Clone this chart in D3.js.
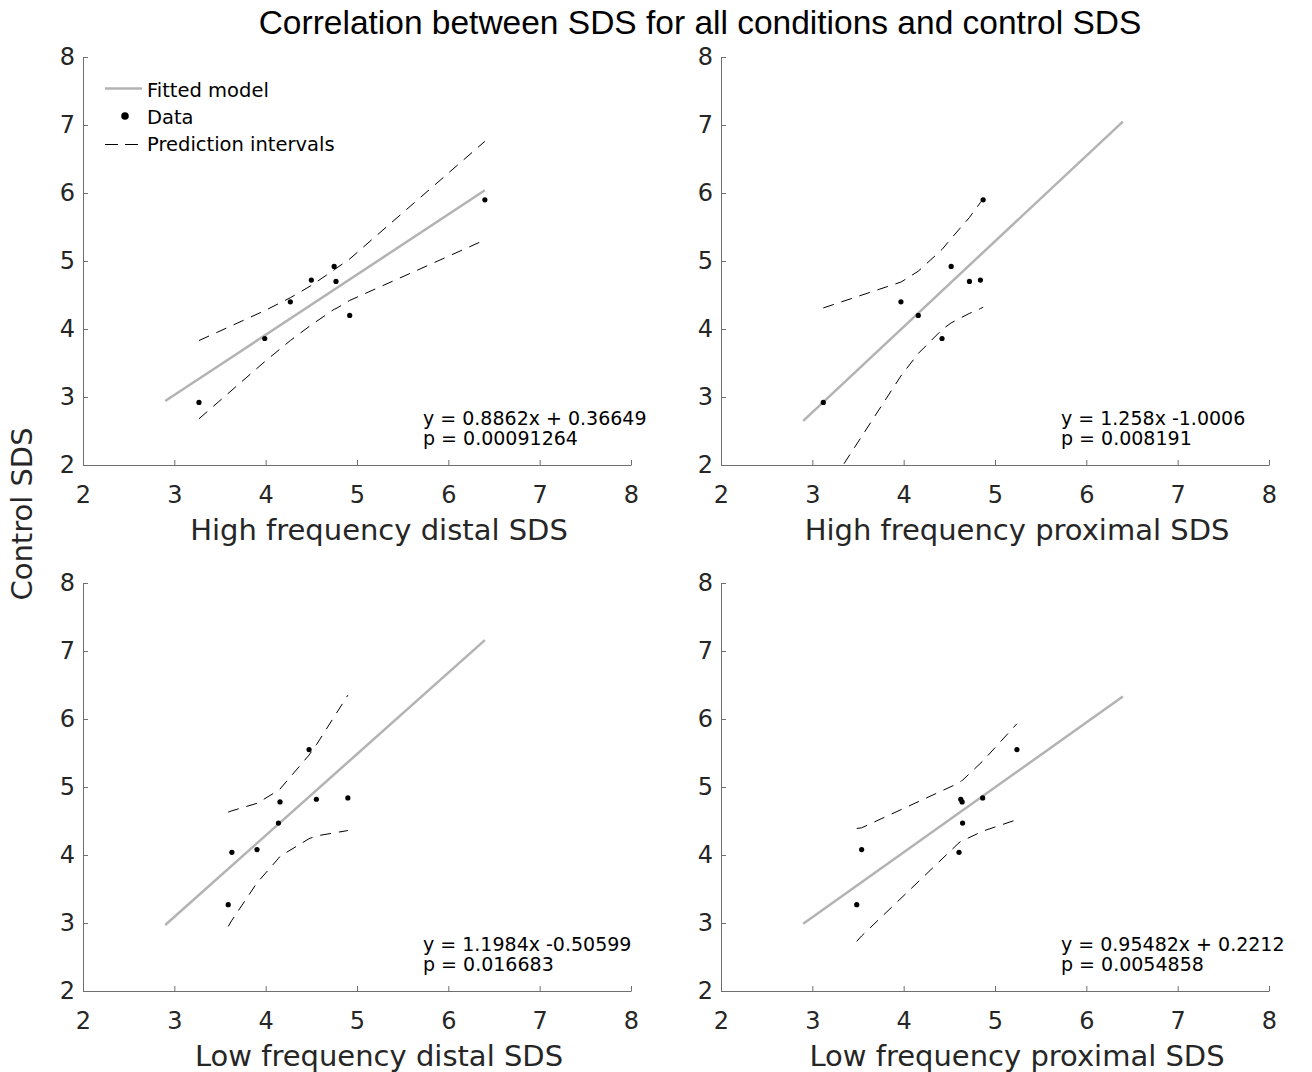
<!DOCTYPE html>
<html>
<head>
<meta charset="utf-8">
<script src="https://cdn.jsdelivr.net/npm/d3@7"></script>
<style>
body { margin: 0; background: #fff; }
text { font-family: "DejaVu Sans", Verdana, sans-serif; }
</style>
</head>
<body>
<div id="chart"></div>
<script>
// control SDS (y) for the top row and the bottom row
var controlTop = [2.92, 3.86, 4.40, 4.72, 4.92, 4.70, 4.20, 5.90];
var controlBottom = [3.27, 4.04, 4.08, 4.47, 4.78, 5.55, 4.82, 4.84];

// condition SDS (x)
var hfDistal = [3.27, 3.99, 4.27, 4.50, 4.75, 4.77, 4.92, 6.40];
var hfProximal = [3.12, 4.42, 3.97, 4.84, 4.52, 4.72, 4.16, 4.87];
var lfDistal = [3.59, 3.63, 3.905, 4.14, 4.157, 4.475, 4.555, 4.90];
var lfProximal = [3.486, 4.606, 3.54, 4.645, 4.64, 5.24, 4.625, 4.865];

// fitted model, drawn between x = 2.9 and 6.4
var fitX = [2.9, 6.4];
var fitHfDistal = [2.94, 6.04];
var fitHfProximal = [2.65, 7.05];
var fitLfDistal = [2.97, 7.16];
var fitLfProximal = [2.99, 6.33];

// prediction interval bounds, read at the sorted data x
var piXHfDistal = [3.27, 3.99, 4.27, 4.50, 4.75, 4.77, 4.92, 6.40];
var piUpHfDistal = [3.83, 4.27, 4.46, 4.64, 4.87, 4.89, 5.03, 6.76];
var piLoHfDistal = [2.68, 3.52, 3.83, 4.06, 4.29, 4.30, 4.42, 5.31];

var piXHfProximal = [3.12, 3.97, 4.16, 4.42, 4.52, 4.72, 4.84, 4.87];
var piUpHfProximal = [4.31, 4.69, 4.85, 5.17, 5.33, 5.64, 5.86, 5.91];
var piLoHfProximal = [1.55, 3.31, 3.64, 3.99, 4.09, 4.23, 4.30, 4.32];

var piXLfDistal = [3.59, 3.63, 3.905, 4.14, 4.157, 4.475, 4.555, 4.90];
var piUpLfDistal = [4.63, 4.65, 4.76, 4.95, 4.97, 5.47, 5.62, 6.35];
var piLoLfDistal = [2.95, 3.04, 3.59, 3.95, 3.98, 4.24, 4.28, 4.36];

var piXLfProximal = [3.486, 3.54, 4.606, 4.625, 4.64, 4.645, 4.865, 5.24];
var piUpLfProximal = [4.39, 4.40, 5.06, 5.08, 5.10, 5.10, 5.38, 5.93];
var piLoLfProximal = [2.73, 2.81, 4.18, 4.20, 4.21, 4.21, 4.35, 4.52];

var xLabels = ["High frequency distal SDS", "High frequency proximal SDS",
               "Low frequency distal SDS", "Low frequency proximal SDS"];
var eqTexts = ["y = 0.8862x + 0.36649", "y = 1.258x -1.0006",
               "y = 1.1984x -0.50599", "y = 0.95482x + 0.2212"];
var pTexts = ["p = 0.00091264", "p = 0.008191", "p = 0.016683", "p = 0.0054858"];
var tickValues = [2, 3, 4, 5, 6, 7, 8];
var legendItems = ["Fitted model", "Data", "Prediction intervals"];

var width = 1312, height = 1072;
var pw = 548, ph = 408;
var origins = [[83, 57], [721, 57], [83, 583], [721, 583]];

var panels = [
    {x: hfDistal, y: controlTop, fit: fitHfDistal, piX: piXHfDistal, up: piUpHfDistal, lo: piLoHfDistal},
    {x: hfProximal, y: controlTop, fit: fitHfProximal, piX: piXHfProximal, up: piUpHfProximal, lo: piLoHfProximal},
    {x: lfDistal, y: controlBottom, fit: fitLfDistal, piX: piXLfDistal, up: piUpLfDistal, lo: piLoLfDistal},
    {x: lfProximal, y: controlBottom, fit: fitLfProximal, piX: piXLfProximal, up: piUpLfProximal, lo: piLoLfProximal}
];

var svg = d3.select("#chart").append("svg")
    .attr("width", width)
    .attr("height", height);

svg.append("rect").attr("width", width).attr("height", height).attr("fill", "#fff");

svg.append("text")
    .attr("x", 700)
    .attr("y", 34)
    .attr("text-anchor", "middle")
    .style("font-family", "'Liberation Sans', Arial, sans-serif")
    .style("font-size", "33.5px")
    .attr("fill", "#000")
    .text("Correlation between SDS for all conditions and control SDS");

svg.append("text")
    .attr("transform", "translate(32,514) rotate(-90)")
    .attr("text-anchor", "middle")
    .style("font-size", "29px")
    .attr("fill", "#262626")
    .text("Control SDS");

var x = d3.scaleLinear().domain([2, 8]).range([0, pw]);
var y = d3.scaleLinear().domain([2, 8]).range([ph, 0]);

function render(panel, i){
    var g = svg.append("g")
        .attr("transform", "translate(" + origins[i][0] + "," + origins[i][1] + ")");

    g.append("clipPath").attr("id", "clip" + i)
        .append("rect").attr("width", pw).attr("height", ph);

    var xAxis = g.append("g")
        .attr("transform", "translate(0," + ph + ")")
        .call(d3.axisBottom(x).tickValues(tickValues).tickFormat(d3.format("d"))
            .tickSizeInner(-5).tickSizeOuter(0).tickPadding(21));
    var yAxis = g.append("g")
        .call(d3.axisLeft(y).tickValues(tickValues).tickFormat(d3.format("d"))
            .tickSizeInner(-5).tickSizeOuter(0).tickPadding(8));

    [xAxis, yAxis].forEach(function(a){
        a.selectAll("path, line").attr("stroke", "#6e6e6e");
        a.selectAll("text")
            .attr("fill", "#262626")
            .style("font-family", "'DejaVu Sans', Verdana, sans-serif")
            .style("font-size", "24px");
    });

    g.append("text")
        .attr("x", pw / 2 + 22)
        .attr("y", ph + 75)
        .attr("text-anchor", "middle")
        .style("font-size", "29px")
        .attr("fill", "#262626")
        .text(xLabels[i]);

    var plot = g.append("g").attr("clip-path", "url(#clip" + i + ")");

    var line = d3.line()
        .x(function(d){ return x(d[0]); })
        .y(function(d){ return y(d[1]); });

    plot.append("path")
        .datum(fitX.map(function(v, k){ return [v, panel.fit[k]]; }))
        .attr("d", line)
        .attr("fill", "none")
        .attr("stroke", "#b3b3b3")
        .attr("stroke-width", 2.5);

    [panel.up, panel.lo].forEach(function(bound){
        plot.append("path")
            .datum(panel.piX.map(function(v, k){ return [v, bound[k]]; }))
            .attr("d", line)
            .attr("fill", "none")
            .attr("stroke", "#000")
            .attr("stroke-width", 1)
            .attr("stroke-dasharray", "11,8");
    });

    plot.selectAll("circle.dot")
        .data(panel.x.map(function(v, k){ return [v, panel.y[k]]; }))
        .enter()
        .append("circle")
            .attr("class", "dot")
            .attr("r", 2.6)
            .attr("cx", function(d){ return x(d[0]); })
            .attr("cy", function(d){ return y(d[1]); })
            .attr("fill", "#000");

    // equation and p value, two tight lines
    g.append("text")
        .attr("x", 340).attr("y", ph - 40)
        .style("font-size", "19px")
        .attr("fill", "#000")
        .text(eqTexts[i]);
    g.append("text")
        .attr("x", 340).attr("y", ph - 20)
        .style("font-size", "19px")
        .attr("fill", "#000")
        .text(pTexts[i]);

    return g;
}

panels.forEach(function(p, i){ render(p, i); });

//legend only in the first panel
var legend = svg.append("g");
legend.append("line")
    .attr("x1", 105).attr("x2", 142).attr("y1", 88.5).attr("y2", 88.5)
    .attr("stroke", "#b3b3b3").attr("stroke-width", 2.5);
legend.append("circle")
    .attr("cx", 125).attr("cy", 116).attr("r", 3.8).attr("fill", "#000");
legend.append("line")
    .attr("x1", 105).attr("x2", 138).attr("y1", 144.5).attr("y2", 144.5)
    .attr("stroke", "#000").attr("stroke-width", 1)
    .attr("stroke-dasharray", "13,7");
legend.selectAll("text.legend_text")
    .data(legendItems)
    .enter()
    .append("text")
        .attr("class", "legend_text")
        .attr("x", 147)
        .attr("y", function(d, i){ return 97 + i * 27; })
        .style("font-size", "19.5px")
        .attr("fill", "#000")
        .text(function(d){ return d; });
</script>
</body>
</html>
